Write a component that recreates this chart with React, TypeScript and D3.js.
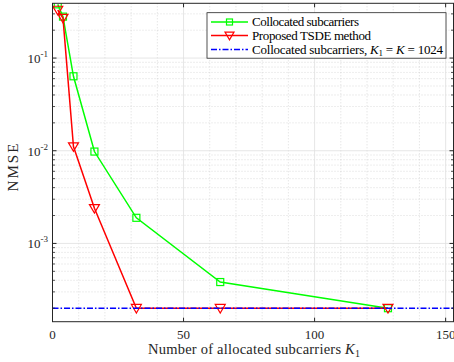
import React from 'react';
import * as d3 from 'd3';

// data
const subcarriers = [2, 4, 8, 16, 32, 64, 128];
const collocated = [0.38, 0.28, 0.0636, 0.0098, 0.00189, 0.000383, 0.0002];
const proposed = [0.33, 0.27, 0.0111, 0.00239, 0.0002, 0.0002, 0.0002];
const fullBaseline = 0.0002;
const xTicks = [0, 50, 100, 150];
const yDecades = [-3, -2, -1];

const W = 454;
const H = 362;
const font = '"Liberation Serif", "DejaVu Serif", serif';

function App() {
  const x = d3.scaleLinear().domain([0, 153]).range([52.5, 453.5]);
  const y = d3.scaleLog().domain([1.43e-4, 0.39]).range([321.7, 3.3]);
  const [x0, x1] = x.range();
  const [yb, yt] = y.range();

  const minorX = d3.range(10, 153, 10).filter(v => v % 50 !== 0);
  const minorY: number[] = [];
  for (let e = -4; e <= -1; e++) {
    for (let m = 2; m <= 9; m++) {
      const v = m * Math.pow(10, e);
      if (v > y.domain()[0] && v < y.domain()[1]) minorY.push(v);
    }
  }

  const line = d3.line<[number, number]>()
    .x(d => x(d[0]))
    .y(d => y(d[1]));

  const green = subcarriers.map((k, i) => [k, collocated[i]] as [number, number]);
  const red = subcarriers.map((k, i) => [k, proposed[i]] as [number, number]);

  const tri = (cx: number, cy: number, s = 5) =>
    `M${cx - s},${cy - s * 0.75}L${cx + s},${cy - s * 0.75}L${cx},${cy + s * 0.95}Z`;

  const axisColor = '#262626';

  return (
    <svg width={W} height={H} style={{ position: 'absolute', left: 0, top: 0, background: '#fff' }}
      fontFamily={font}>
      <defs>
        <clipPath id="plot">
          <rect x={x0} y={yt} width={x1 - x0} height={yb - yt} />
        </clipPath>
      </defs>
      {/* grid */}
      <g>
        {minorX.map(v => (
          <line key={'mx' + v} x1={x(v)} x2={x(v)} y1={yt} y2={yb}
            stroke="#c4c4c4" strokeWidth={0.6} strokeDasharray="1,2" />
        ))}
        {minorY.map(v => (
          <line key={'my' + v} x1={x0} x2={x1} y1={y(v)} y2={y(v)}
            stroke="#c4c4c4" strokeWidth={0.6} strokeDasharray="1,2" />
        ))}
        {xTicks.slice(1).map(v => (
          <line key={'gx' + v} x1={x(v)} x2={x(v)} y1={yt} y2={yb} stroke="#e0e0e0" strokeWidth={0.8} />
        ))}
        {yDecades.map(e => (
          <line key={'gy' + e} x1={x0} x2={x1} y1={y(Math.pow(10, e))} y2={y(Math.pow(10, e))}
            stroke="#e0e0e0" strokeWidth={0.8} />
        ))}
      </g>

      {/* series */}
      <g clipPath="url(#plot)">
        <path d={line(green) ?? ''} fill="none" stroke="#00ff00" strokeWidth={1.5} />
        {green.map(d => (
          <rect key={'g' + d[0]} x={x(d[0]) - 3.5} y={y(d[1]) - 3.5} width={7} height={7}
            fill="none" stroke="#00ff00" strokeWidth={1.2} />
        ))}
        <path d={line(red) ?? ''} fill="none" stroke="#ff0000" strokeWidth={1.5} />
        {red.map(d => (
          <path key={'r' + d[0]} d={tri(x(d[0]), y(d[1]))} fill="none" stroke="#ff0000" strokeWidth={1.2} />
        ))}
        <line x1={x0} x2={x1} y1={y(fullBaseline)} y2={y(fullBaseline)}
          stroke="#0000ff" strokeWidth={1.5} strokeDasharray="6,2,1.5,2" />
      </g>

      {/* frame and ticks */}
      <rect x={x0} y={yt} width={x1 - x0} height={yb - yt} fill="none" stroke={axisColor} strokeWidth={1} />
      {xTicks.map(v => (
        <g key={'xt' + v}>
          <line x1={x(v)} x2={x(v)} y1={yb} y2={yb - 4} stroke={axisColor} />
          <line x1={x(v)} x2={x(v)} y1={yt} y2={yt + 4} stroke={axisColor} />
          <text x={x(v)} y={yb + 17} textAnchor="middle" fontSize={13} fill={axisColor}>{v}</text>
        </g>
      ))}
      {minorY.map(v => (
        <g key={'ymt' + v}>
          <line x1={x0} x2={x0 + 2.5} y1={y(v)} y2={y(v)} stroke={axisColor} strokeWidth={0.8} />
          <line x1={x1} x2={x1 - 2.5} y1={y(v)} y2={y(v)} stroke={axisColor} strokeWidth={0.8} />
        </g>
      ))}
      {yDecades.map(e => (
        <g key={'yt' + e}>
          <line x1={x0} x2={x0 + 4} y1={y(Math.pow(10, e))} y2={y(Math.pow(10, e))} stroke={axisColor} />
          <line x1={x1} x2={x1 - 4} y1={y(Math.pow(10, e))} y2={y(Math.pow(10, e))} stroke={axisColor} />
          <text x={x0 - 4.5} y={y(Math.pow(10, e)) + 5} textAnchor="end" fontSize={13} fill={axisColor}>
            10<tspan dy={-6} fontSize={9}>{e}</tspan>
          </text>
        </g>
      ))}

      {/* axis labels */}
      <text x={148} y={354} fontSize={14.5} fill={axisColor} textLength={212} lengthAdjust="spacing">
        Number of allocated subcarriers <tspan fontStyle="italic">K</tspan>
        <tspan dy={3} fontSize={10}>1</tspan>
      </text>
      <text transform="translate(18,167.5) rotate(-90)" textAnchor="middle" fontSize={15} fill={axisColor}
        textLength={48} lengthAdjust="spacing">
        NMSE
      </text>

      {/* legend */}
      <g>
        <rect x={207} y={12.7} width={239} height={45.5} fill="#fff" stroke={axisColor} strokeWidth={0.8} />
        <line x1={211} x2={248} y1={22} y2={22} stroke="#00ff00" strokeWidth={1.5} />
        <rect x={229.5 - 3} y={22 - 3} width={6} height={6} fill="none" stroke="#00ff00" strokeWidth={1.2} />
        <text x={252} y={26} fontSize={13} fill="#000" textLength={107} lengthAdjust="spacing">
          Collocated subcarriers
        </text>
        <line x1={211} x2={248} y1={35.5} y2={35.5} stroke="#ff0000" strokeWidth={1.5} />
        <path d={tri(229.5, 35.5, 4.5)} fill="none" stroke="#ff0000" strokeWidth={1.2} />
        <text x={252} y={39.5} fontSize={13} fill="#000" textLength={119} lengthAdjust="spacing">
          Proposed TSDE method
        </text>
        <line x1={211} x2={248} y1={49.5} y2={49.5} stroke="#0000ff" strokeWidth={1.5} strokeDasharray="6,2,1.5,2" />
        <text x={252} y={53.5} fontSize={13} fill="#000" textLength={191} lengthAdjust="spacing">
          Collocated subcarriers, <tspan fontStyle="italic">K</tspan>
          <tspan dy={2.5} fontSize={9}>1</tspan>
          <tspan dy={-2.5}> = </tspan><tspan fontStyle="italic">K</tspan> = 1024
        </text>
      </g>
    </svg>
  );
}

export default App;
